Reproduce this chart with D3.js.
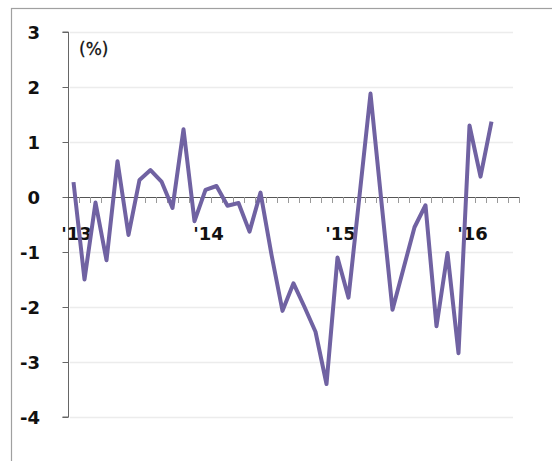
<!DOCTYPE html>
<html>
<head>
<meta charset="utf-8">
<script src="https://cdn.jsdelivr.net/npm/d3@7"></script>
<style>
  html, body { margin: 0; padding: 0; background: #fff; }
  svg { display: block; }
</style>
</head>
<body>
<svg id="chart" width="552" height="461"></svg>
<script>
// Monthly categories on the x axis (Jan 2013 – May 2016)
const months = [
  "2013-01","2013-02","2013-03","2013-04","2013-05","2013-06","2013-07","2013-08","2013-09","2013-10","2013-11","2013-12",
  "2014-01","2014-02","2014-03","2014-04","2014-05","2014-06","2014-07","2014-08","2014-09","2014-10","2014-11","2014-12",
  "2015-01","2015-02","2015-03","2015-04","2015-05","2015-06","2015-07","2015-08","2015-09","2015-10","2015-11","2015-12",
  "2016-01","2016-02","2016-03","2016-04","2016-05"
];

// Month-on-month change (%), Jan 2013 – Mar 2016
const values = [
  0.27, -1.5, -0.1, -1.15, 0.65, -0.69, 0.31, 0.49, 0.28, -0.2, 1.23, -0.44,
  0.13, 0.2, -0.16, -0.11, -0.63, 0.08, -1.05, -2.07, -1.57, -2.0, -2.45, -3.4,
  -1.1, -1.83, 0.02, 1.88, -0.1, -2.05, -1.3, -0.55, -0.15, -2.35, -1.02, -2.84,
  1.3, 0.37, 1.37
];

// Year labels and the month each one sits under
const yearLabels = ["'13", "'14", "'15", "'16"];
const yearMonths = ["2013-01", "2014-01", "2015-01", "2016-01"];

const yTicks = [3, 2, 1, 0, -1, -2, -3, -4];
const unitLabel = "(%)";

const svg = d3.select("#chart");

// Outer frame
svg.append("rect")
  .attr("x", 11.5).attr("y", 8.5)
  .attr("width", 600).attr("height", 500)
  .attr("fill", "none").attr("stroke", "#a0a0a0").attr("stroke-width", 1.2);

const x = d3.scaleBand().domain(months).range([68, 519]).paddingInner(0).paddingOuter(0);
const y = d3.scaleLinear().domain([-4, 3]).range([417, 32]);

// Horizontal gridlines
svg.append("g")
  .selectAll("line")
  .data(yTicks.filter(d => d !== 0))
  .join("line")
  .attr("x1", 70).attr("x2", 513)
  .attr("y1", d => Math.round(y(d)) + 0.5)
  .attr("y2", d => Math.round(y(d)) + 0.5)
  .attr("stroke", "#ececec").attr("stroke-width", 1.5);

// Y axis
const yAxis = d3.axisLeft(y).tickValues(yTicks).tickSize(6).tickFormat("");
const yg = svg.append("g").attr("transform", "translate(68.5,0)").call(yAxis);
yg.select(".domain").attr("stroke", "#666").attr("d", `M-6,${y(3)}H0V${y(-4)}H-6`);
yg.selectAll(".tick line").attr("stroke", "#666");

// Y tick labels
svg.append("g")
  .selectAll("text")
  .data(yTicks)
  .join("text")
  .attr("x", 40)
  .attr("y", d => y(d) + 6.5)
  .attr("text-anchor", "end")
  .attr("font-family", "'DejaVu Sans', sans-serif")
  .attr("font-weight", "bold")
  .attr("font-size", 18)
  .attr("fill", "#111")
  .text(d => d);

// X axis along zero, with month ticks at band edges
const edges = months.map(m => x(m)).concat([x.range()[1]]);
const xg = svg.append("g");
xg.append("line")
  .attr("x1", 68).attr("x2", 519)
  .attr("y1", Math.round(y(0)) + 0.5).attr("y2", Math.round(y(0)) + 0.5)
  .attr("stroke", "#555").attr("stroke-width", 1);
xg.selectAll("line.tick")
  .data(edges.slice(1))
  .join("line")
  .attr("class", "tick")
  .attr("x1", d => Math.round(d) + 0.5).attr("x2", d => Math.round(d) + 0.5)
  .attr("y1", Math.round(y(0))).attr("y2", Math.round(y(0)) + 6)
  .attr("stroke", "#999").attr("stroke-width", 1);

// Year labels
svg.append("g")
  .selectAll("text")
  .data(yearLabels)
  .join("text")
  .attr("x", (d, i) => x(yearMonths[i]) + x.bandwidth() / 2 + 3)
  .attr("y", 240)
  .attr("text-anchor", "middle")
  .attr("font-family", "'DejaVu Sans', sans-serif")
  .attr("font-weight", "bold")
  .attr("font-size", 18)
  .attr("fill", "#111")
  .text(d => d);

// Unit label
svg.append("text")
  .attr("x", 79).attr("y", 55)
  .attr("font-family", "'DejaVu Sans', sans-serif")
  .attr("font-size", 17)
  .attr("fill", "#111")
  .attr("stroke", "#111").attr("stroke-width", 0.3)
  .text(unitLabel);

// Data line
const line = d3.line()
  .x((d, i) => x(months[i]) + x.bandwidth() / 2)
  .y(d => y(d));

svg.append("path")
  .datum(values)
  .attr("d", line)
  .attr("fill", "none")
  .attr("stroke", "#7062a2")
  .attr("stroke-width", 4)
  .attr("stroke-linejoin", "round");
</script>
</body>
</html>
